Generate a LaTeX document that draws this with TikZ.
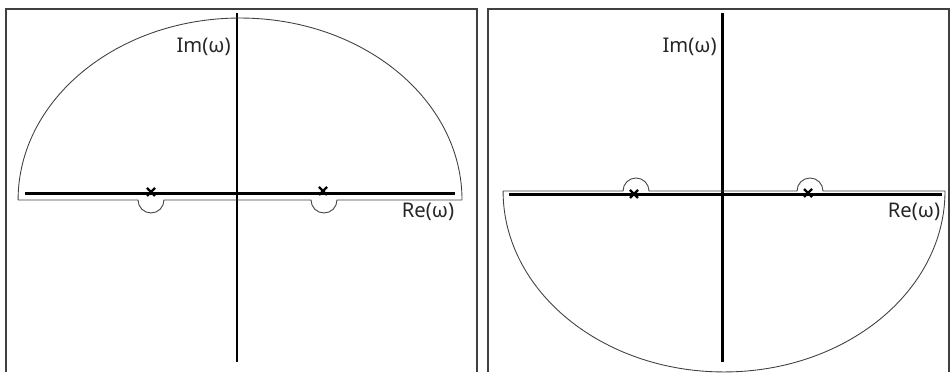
\documentclass[tikz,border=0pt]{standalone}
\usepackage{fontspec}
\setmainfont{Noto Sans}
\begin{document}
\begin{tikzpicture}[x=0.02cm,y=0.02cm,
  axisline/.style={line width=1.7pt,black},
  contour/.style={line width=0.5pt,black!75},
  frameline/.style={line width=0.9pt,black!75},
  polemark/.style={line width=1.3pt,black},
  lbl/.style={inner sep=0pt,font=\fontsize{11.5}{13}\selectfont,text=black!85}]
\useasboundingbox (0,0) rectangle (950,374);
% ---------- left panel ----------
\draw[frameline] (6,2) -- (6,365) -- (477,365) -- (477,2);
\draw[axisline] (237,361) -- (237,12);
\draw[axisline] (25,180) -- (455,180);
\draw[contour] (18,174) -- (138,174) arc[start angle=180,end angle=360,radius=0.26cm]
  -- (311,174) arc[start angle=180,end angle=360,radius=0.26cm]
  -- (462,174) arc[start angle=0,end angle=180,x radius=4.44cm,y radius=3.64cm];
\foreach \px/\py in {151/182,323/183}{
  \draw[polemark] (\px-4,\py-4) -- (\px+4,\py+4) (\px-4,\py+4) -- (\px+4,\py-4);
}
\node[lbl,anchor=east] (imL) at (231,327) {Im(ω)};
\node[lbl] (reL) at (428,162) {Re(ω)};
% ---------- right panel ----------
\draw[frameline] (488,2) -- (488,365) -- (949,365) -- (949,2);
\draw[axisline] (722,361) -- (722,12);
\draw[axisline] (509,179) -- (942,179);
\draw[contour] (503,183) -- (623,183) arc[start angle=180,end angle=0,radius=0.26cm]
  -- (797,183) arc[start angle=180,end angle=0,radius=0.26cm]
  -- (945,183) arc[start angle=0,end angle=-180,x radius=4.42cm,y radius=3.62cm];
\foreach \px/\py in {634/180,808/181}{
  \draw[polemark] (\px-4,\py-4) -- (\px+4,\py+4) (\px-4,\py+4) -- (\px+4,\py-4);
}
\node[lbl,anchor=east] (imR) at (717,327) {Im(ω)};
\node[lbl] (reR) at (914,162) {Re(ω)};
\end{tikzpicture}
\end{document}
